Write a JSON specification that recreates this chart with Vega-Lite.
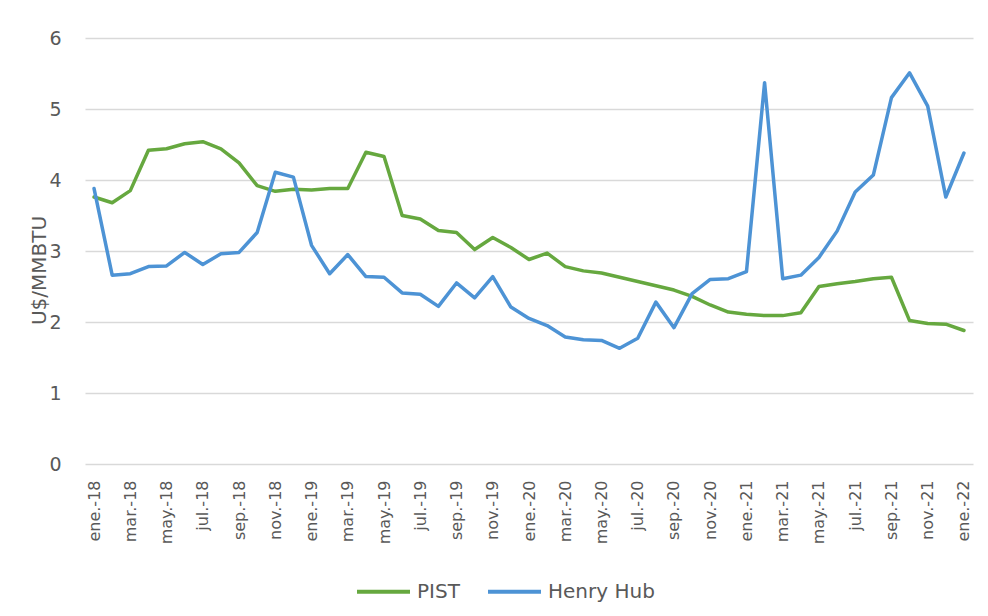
{
  "$schema": "https://vega.github.io/schema/vega-lite/v6.json",
  "width": 888,
  "height": 426,
  "autosize": {"type": "none"},
  "padding": {"left": 85, "top": 38, "right": 15, "bottom": 152},
  "background": "white",
  "config": {
    "view": {"stroke": null},
    "font": "DejaVu Sans"
  },
  "data": {
    "values": [
      {"mes": "ene.-18", "PIST": 3.76, "Henry Hub": 3.88},
      {"mes": "feb.-18", "PIST": 3.68, "Henry Hub": 2.66},
      {"mes": "mar.-18", "PIST": 3.85, "Henry Hub": 2.68},
      {"mes": "abr.-18", "PIST": 4.42, "Henry Hub": 2.78},
      {"mes": "may.-18", "PIST": 4.44, "Henry Hub": 2.79},
      {"mes": "jun.-18", "PIST": 4.51, "Henry Hub": 2.98},
      {"mes": "jul.-18", "PIST": 4.54, "Henry Hub": 2.81},
      {"mes": "ago.-18", "PIST": 4.44, "Henry Hub": 2.96},
      {"mes": "sep.-18", "PIST": 4.24, "Henry Hub": 2.98},
      {"mes": "oct.-18", "PIST": 3.92, "Henry Hub": 3.26},
      {"mes": "nov.-18", "PIST": 3.84, "Henry Hub": 4.11},
      {"mes": "dic.-18", "PIST": 3.87, "Henry Hub": 4.04},
      {"mes": "ene.-19", "PIST": 3.86, "Henry Hub": 3.08},
      {"mes": "feb.-19", "PIST": 3.88, "Henry Hub": 2.68},
      {"mes": "mar.-19", "PIST": 3.88, "Henry Hub": 2.95},
      {"mes": "abr.-19", "PIST": 4.39, "Henry Hub": 2.64},
      {"mes": "may.-19", "PIST": 4.33, "Henry Hub": 2.63},
      {"mes": "jun.-19", "PIST": 3.5, "Henry Hub": 2.41},
      {"mes": "jul.-19", "PIST": 3.45, "Henry Hub": 2.39},
      {"mes": "ago.-19", "PIST": 3.29, "Henry Hub": 2.22},
      {"mes": "sep.-19", "PIST": 3.26, "Henry Hub": 2.55},
      {"mes": "oct.-19", "PIST": 3.02, "Henry Hub": 2.34},
      {"mes": "nov.-19", "PIST": 3.19, "Henry Hub": 2.64},
      {"mes": "dic.-19", "PIST": 3.05, "Henry Hub": 2.21},
      {"mes": "ene.-20", "PIST": 2.88, "Henry Hub": 2.05},
      {"mes": "feb.-20", "PIST": 2.97, "Henry Hub": 1.95},
      {"mes": "mar.-20", "PIST": 2.78, "Henry Hub": 1.79},
      {"mes": "abr.-20", "PIST": 2.72, "Henry Hub": 1.75},
      {"mes": "may.-20", "PIST": 2.69, "Henry Hub": 1.74},
      {"mes": "jun.-20", "PIST": 2.63, "Henry Hub": 1.63},
      {"mes": "jul.-20", "PIST": 2.57, "Henry Hub": 1.77},
      {"mes": "ago.-20", "PIST": 2.51, "Henry Hub": 2.28},
      {"mes": "sep.-20", "PIST": 2.45, "Henry Hub": 1.92},
      {"mes": "oct.-20", "PIST": 2.36, "Henry Hub": 2.4},
      {"mes": "nov.-20", "PIST": 2.24, "Henry Hub": 2.6},
      {"mes": "dic.-20", "PIST": 2.14, "Henry Hub": 2.61},
      {"mes": "ene.-21", "PIST": 2.11, "Henry Hub": 2.71},
      {"mes": "feb.-21", "PIST": 2.09, "Henry Hub": 5.37},
      {"mes": "mar.-21", "PIST": 2.09, "Henry Hub": 2.61},
      {"mes": "abr.-21", "PIST": 2.13, "Henry Hub": 2.66},
      {"mes": "may.-21", "PIST": 2.5, "Henry Hub": 2.91},
      {"mes": "jun.-21", "PIST": 2.54, "Henry Hub": 3.28},
      {"mes": "jul.-21", "PIST": 2.57, "Henry Hub": 3.83},
      {"mes": "ago.-21", "PIST": 2.61, "Henry Hub": 4.07},
      {"mes": "sep.-21", "PIST": 2.63, "Henry Hub": 5.16},
      {"mes": "oct.-21", "PIST": 2.02, "Henry Hub": 5.51},
      {"mes": "nov.-21", "PIST": 1.98, "Henry Hub": 5.04},
      {"mes": "dic.-21", "PIST": 1.97, "Henry Hub": 3.76},
      {"mes": "ene.-22", "PIST": 1.88, "Henry Hub": 4.38}
    ]
  },
  "transform": [
    {"fold": ["PIST", "Henry Hub"], "as": ["serie", "valor"]}
  ],
  "mark": {"type": "line", "strokeWidth": 3.5, "strokeJoin": "round", "strokeCap": "round"},
  "encoding": {
    "x": {
      "field": "mes",
      "type": "ordinal",
      "sort": null,
      "scale": {"type": "point", "padding": 0.5},
      "axis": {
        "title": null,
        "values": ["ene.-18","mar.-18","may.-18","jul.-18","sep.-18","nov.-18","ene.-19","mar.-19","may.-19","jul.-19","sep.-19","nov.-19","ene.-20","mar.-20","may.-20","jul.-20","sep.-20","nov.-20","ene.-21","mar.-21","may.-21","jul.-21","sep.-21","nov.-21","ene.-22"],
        "labelAngle": -90,
        "labelFontSize": 16,
        "labelColor": "#595959",
        "labelPadding": 16,
        "ticks": false,
        "domain": false,
        "grid": false
      }
    },
    "y": {
      "field": "valor",
      "type": "quantitative",
      "scale": {"domain": [0, 6], "nice": false},
      "axis": {
        "title": "U$/MMBTU",
        "titleFontSize": 20,
        "titleFontWeight": "normal",
        "titleColor": "#595959",
        "titleAngle": -90,
        "titleX": -46,
        "titleY": 232,
        "titleAlign": "center",
        "titleBaseline": "middle",
        "values": [0, 1, 2, 3, 4, 5, 6],
        "labelFontSize": 19,
        "labelColor": "#595959",
        "labelPadding": 24,
        "ticks": false,
        "domain": false,
        "grid": true,
        "gridColor": "#d9d9d9",
        "gridWidth": 1.5
      }
    },
    "color": {
      "field": "serie",
      "type": "nominal",
      "scale": {"domain": ["PIST", "Henry Hub"], "range": ["#66a83f", "#4d93d5"]},
      "legend": {
        "title": null,
        "orient": "none",
        "legendX": 270,
        "legendY": 525,
        "direction": "horizontal",
        "symbolType": "stroke",
        "symbolSize": 2809,
        "symbolStrokeWidth": 4,
        "labelFontSize": 20,
        "labelColor": "#595959",
        "labelOffset": 5,
        "columnPadding": 20
      }
    }
  }
}
